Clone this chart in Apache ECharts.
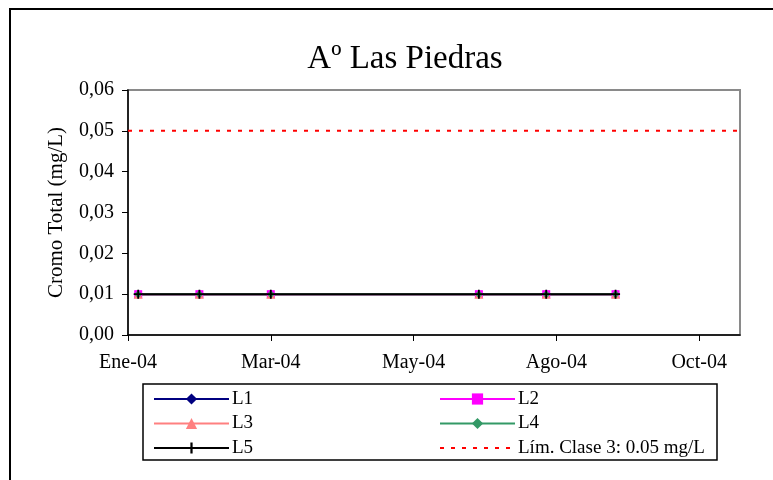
<!DOCTYPE html>
<html>
<head>
<meta charset="utf-8">
<script src="https://cdn.jsdelivr.net/npm/echarts@6/dist/echarts.min.js"></script>
<style>
  html, body { margin: 0; padding: 0; background: #fff; }
  #chart { width: 773px; height: 480px; }
</style>
</head>
<body>
<div id="chart"></div>
<script>
// fechas de muestreo y valores (mg/L)
var fechas = ['2004-01-15', '2004-02-14', '2004-03-20', '2004-06-30', '2004-08-02', '2004-09-05'];
var L1 = [0.01, 0.01, 0.01, 0.01, 0.01, 0.01];
var L2 = [0.01, 0.01, 0.01, 0.01, 0.01, 0.01];
var L3 = [0.01, 0.01, 0.01, 0.01, 0.01, 0.01];
var L4 = [0.01, 0.01, 0.01, 0.01, 0.01, 0.01];
var L5 = [0.01, 0.01, 0.01, 0.01, 0.01, 0.01];
var limite = 0.05;

// eje de fechas: origen 10-ene-2004, una marca cada 70 dias
var origen = Date.UTC(2004, 0, 10);
var paso = 70;
var finEje = 300;
var meses = ['Ene','Feb','Mar','Abr','May','Jun','Jul','Ago','Sep','Oct','Nov','Dic'];

function dias(s) {
    var p = s.split('-');
    return Math.round((Date.UTC(+p[0], +p[1] - 1, +p[2]) - origen) / 86400000);
}
function serie(vals) {
    return fechas.map(function (f, i) { return [dias(f), vals[i]]; });
}

var myChart = echarts.init(document.getElementById('chart'));
var font = 'Liberation Serif';
var plus = 'path://M4,0H6V4H10V6H6V10H4V6H0V4H4Z';

const option = {
    animation: false,
    textStyle: { fontFamily: font },
    title: {
        text: 'Aº Las Piedras',
        left: 400,
        textAlign: 'center',
        top: 38,
        textStyle: { fontFamily: font, fontSize: 33, fontWeight: 'normal', color: '#000' }
    },
    grid: {
        left: 128, top: 90, right: 33, bottom: 145,
        show: true, borderColor: '#8a8a8a', borderWidth: 2
    },
    legend: [
        {
            orient: 'vertical', left: 148, top: 384,
            itemWidth: 75, itemHeight: 14, itemGap: 4.5,
            itemStyle: { borderWidth: 0 },
            selectedMode: false,
            textStyle: { fontFamily: font, fontSize: 19, color: '#000', lineHeight: 20, padding: [0, 0, 0, -2] },
            data: ['L1', 'L3', 'L5']
        },
        {
            orient: 'vertical', left: 434, top: 384,
            itemWidth: 75, itemHeight: 14, itemGap: 4.5,
            itemStyle: { borderWidth: 0 },
            selectedMode: false,
            textStyle: { fontFamily: font, fontSize: 19, color: '#000', lineHeight: 20, padding: [0, 0, 0, -2] },
            data: ['L2', 'L4', 'Lím. Clase 3: 0.05 mg/L']
        }
    ],
    graphic: [
        { type: 'rect', shape: { x: 10, y: 9, width: 790, height: 500 }, style: { fill: 'none', stroke: '#000', lineWidth: 2 }, silent: true },
        { type: 'rect', shape: { x: 143, y: 384, width: 574, height: 76 }, style: { fill: 'none', stroke: '#000', lineWidth: 1.5 }, silent: true }
    ],
    xAxis: {
        type: 'value',
        min: 0, max: finEje, interval: paso,
        splitLine: { show: false },
        axisLine: { lineStyle: { color: '#000', width: 1.5 } },
        axisTick: { show: true, inside: false, length: 6, lineStyle: { color: '#000' } },
        axisLabel: {
            color: '#000', fontSize: 20, fontFamily: font, margin: 18,
            showMaxLabel: false,
            formatter: function (v) {
                if (v % paso !== 0) return '';
                var d = new Date(origen + v * 86400000);
                return meses[d.getUTCMonth()] + '-' + String(d.getUTCFullYear()).slice(2);
            }
        }
    },
    yAxis: {
        type: 'value',
        min: 0, max: 0.06, interval: 0.01,
        name: 'Cromo Total (mg/L)',
        nameLocation: 'middle',
        nameGap: 61,
        nameTextStyle: { fontFamily: font, fontSize: 21, color: '#000' },
        splitLine: { show: false },
        axisLine: { show: true, lineStyle: { color: '#000', width: 1.5 } },
        axisTick: { show: true, length: 6, lineStyle: { color: '#000' } },
        axisLabel: {
            color: '#000', fontSize: 20, fontFamily: font, margin: 14,
            formatter: function (v) { return v.toFixed(2).replace('.', ','); }
        }
    },
    series: [
        { name: 'L1', type: 'line', data: serie(L1), symbol: 'diamond', symbolSize: 9,
          color: '#000080', lineStyle: { width: 2, color: '#000080' }, itemStyle: { color: '#000080' } },
        { name: 'L2', type: 'line', data: serie(L2), symbol: 'rect', symbolSize: 8,
          color: '#ff00ff', lineStyle: { width: 2, color: '#ff00ff' }, itemStyle: { color: '#ff00ff' } },
        { name: 'L3', type: 'line', data: serie(L3), symbol: 'triangle', symbolSize: 9,
          color: '#ff8080', lineStyle: { width: 2, color: '#ff8080' }, itemStyle: { color: '#ff8080' } },
        { name: 'L4', type: 'line', data: serie(L4), symbol: 'diamond', symbolSize: 8,
          color: '#339966', lineStyle: { width: 2, color: '#339966' }, itemStyle: { color: '#339966' } },
        { name: 'L5', type: 'line', data: serie(L5), symbol: plus, symbolSize: 9,
          color: '#000', lineStyle: { width: 2, color: '#000' }, itemStyle: { color: '#000' } },
        { name: 'Lím. Clase 3: 0.05 mg/L', type: 'line', symbol: 'none',
          data: [[0, limite], [finEje, limite]],
          color: '#ff0000', itemStyle: { color: '#ff0000', opacity: 0 },
          lineStyle: { width: 2, color: '#ff0000', type: [4, 7] } }
    ]
};

myChart.setOption(option);
</script>
</body>
</html>
